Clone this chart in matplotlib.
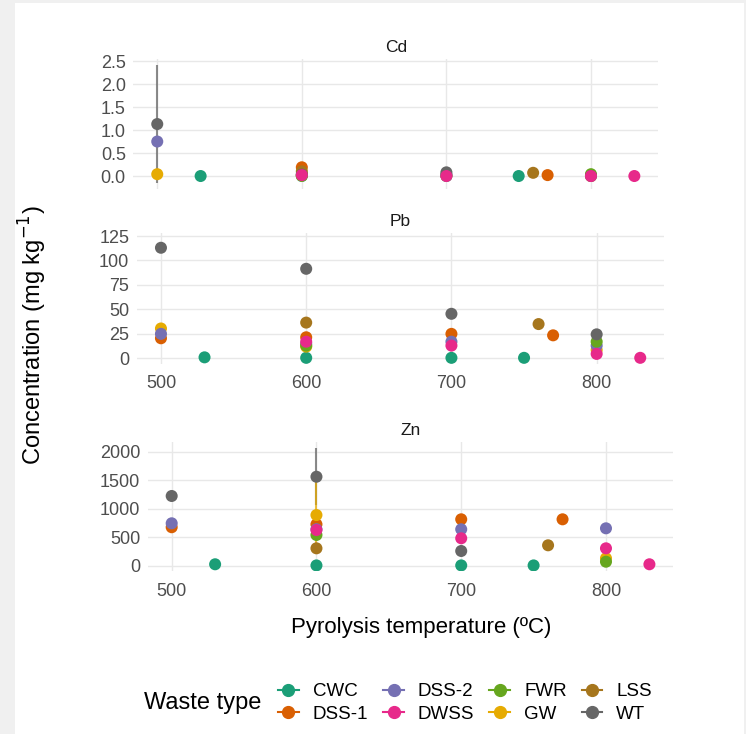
import numpy as np
import matplotlib
matplotlib.use("Agg")
import matplotlib.pyplot as plt
from matplotlib.lines import Line2D
from matplotlib.patches import Rectangle

plt.rcParams['font.family'] = ['Liberation Sans', 'DejaVu Sans']

# Waste types and colours (Dark2)
waste_types = ["CWC", "DSS-1", "DSS-2", "DWSS", "FWR", "GW", "LSS", "WT"]
colors = {"CWC": "#1B9E77", "DSS-1": "#D95F02", "DSS-2": "#7570B3", "DWSS": "#E7298A",
          "FWR": "#66A61E", "GW": "#E6AB02", "LSS": "#A6761D", "WT": "#666666"}

# Pyrolysis temperatures per waste type
temps = {
    "CWC": [530, 600, 700, 750],
    "DSS-1": [500, 600, 700, 770],
    "DSS-2": [500, 600, 700, 800],
    "DWSS": [600, 700, 800, 830],
    "FWR": [600, 800],
    "GW": [500, 600, 800],
    "LSS": [600, 760],
    "WT": [500, 600, 700, 800],
}

# Cd (mg/kg)
cd_mean = {
    "CWC": [0.0, 0.0, 0.0, 0.0],
    "DSS-1": [np.nan, 0.19, 0.01, 0.02],
    "DSS-2": [0.75, 0.04, 0.03, 0.01],
    "DWSS": [0.02, 0.0, 0.0, 0.0],
    "FWR": [0.01, 0.04],
    "GW": [0.04, 0.01, 0.0],
    "LSS": [0.10, 0.07],
    "WT": [1.13, 0.03, 0.08, 0.0],
}
cd_sd = {"WT": [1.28, 0, 0, 0]}

# Pb (mg/kg)
pb_mean = {
    "CWC": [1.0, 0.5, 0.5, 0.5],
    "DSS-1": [20.5, 21.5, 25.0, 23.5],
    "DSS-2": [25.0, 15.0, 17.0, 13.0],
    "DWSS": [17.0, 13.0, 4.5, 0.5],
    "FWR": [13.0, 17.0],
    "GW": [30.5, 12.0, 8.5],
    "LSS": [36.5, 35.0],
    "WT": [113.0, 91.5, 45.5, 24.5],
}
pb_sd = {"WT": [0, 0, 4, 0], "DWSS": [3, 0, 0, 0]}

# Zn (mg/kg)
zn_mean = {
    "CWC": [25, 5, 5, 5],
    "DSS-1": [675, 726, 814, 814],
    "DSS-2": [744, 640, 639, 656],
    "DWSS": [626, 481, 305, 25],
    "FWR": [539, 70],
    "GW": [np.nan, 889, 130],
    "LSS": [305, 358],
    "WT": [1223, 1561, 258, np.nan],
}
zn_sd = {"WT": [0, 500, 0, 0], "GW": [0, 644, 0]}

draw_order = ["CWC", "DSS-1", "GW", "DSS-2", "FWR", "LSS", "WT", "DWSS"]

W, H = 746, 734
fig = plt.figure(figsize=(W / 100, H / 100), dpi=100)
fig.patch.set_facecolor("#f0f0f0")
fig.patches.append(Rectangle((15 / W, 0), (744 - 15) / W, 1 - 3 / H,
                             transform=fig.transFigure, facecolor="white",
                             edgecolor="none", zorder=-10))


def px_axes(left, right, top, bottom):
    return fig.add_axes([left / W, 1 - bottom / H, (right - left) / W, (bottom - top) / H])


panels = [
    ("Cd", cd_mean, cd_sd, (133.4, 658.2, 59.2, 188.9), (-0.28, 2.54),
     [0, 0.5, 1.0, 1.5, 2.0, 2.5], "{:.1f}", False),
    ("Pb", pb_mean, pb_sd, (137.0, 664.2, 232.6, 363.7), (-5.5, 128.5),
     [0, 25, 50, 75, 100, 125], "{:.0f}", True),
    ("Zn", zn_mean, zn_sd, (147.8, 673.3, 442.3, 571.4), (-100, 2165),
     [0, 500, 1000, 1500, 2000], "{:.0f}", True),
]

for name, means, sds, box, ylim, yticks, fmt, show_x in panels:
    ax = px_axes(*box)
    ax.patch.set_alpha(0)
    for wt in draw_order:
        x = np.array(temps[wt], dtype=float)
        y = np.array(means[wt], dtype=float)
        if wt in sds:
            sd = np.array(sds[wt], dtype=float)
            m = sd > 0
            ax.vlines(x[m], y[m] - sd[m], y[m] + sd[m], color=colors[wt], lw=1.5,
                      alpha=0.75, zorder=2.5 if wt == "GW" else 2)
        ax.scatter(x, y, s=75, color=colors[wt], edgecolors="none", zorder=3)
    ax.set_xlim(483.5, 846.5)
    ax.set_ylim(*ylim)
    ax.set_xticks([500, 600, 700, 800])
    ax.set_yticks(yticks)
    ax.set_yticklabels([fmt.format(v) for v in yticks])
    if not show_x:
        ax.set_xticklabels([])
    for s in ax.spines.values():
        s.set_visible(False)
    ax.grid(True, color="#e8e8e8", lw=1.0)
    ax.set_axisbelow(True)
    ax.tick_params(length=0, labelsize=13, colors="#4d4d4d", pad=5.5)
    ax.tick_params(axis="x", pad=8)
    ax.set_title(name, fontsize=12.5, color="#1a1a1a", pad=5)

fig.text(33 / W, 1 - 335 / H, r"Concentration (mg kg$^{-1}$)", rotation=90,
         ha="center", va="center", fontsize=17)
fig.text(421 / W, 1 - 628 / H, "Pyrolysis temperature (ºC)",
         ha="center", va="center", fontsize=16)

# Legend
fig.text(144 / W, 1 - 703 / H, "Waste type", ha="left", va="center", fontsize=17)
handles = [Line2D([], [], color=colors[wt], marker="o", markersize=8.5, lw=1.5)
           for wt in waste_types]
fig.legend(handles, waste_types, ncol=4, loc="center left",
           bbox_to_anchor=(278 / W, 1 - 703 / H), frameon=False, fontsize=13.5,
           handlelength=1.1, handletextpad=0.75, columnspacing=0.8,
           labelspacing=0.3, borderpad=0, borderaxespad=0)

fig.savefig("out.png", dpi=100, facecolor=fig.get_facecolor())
